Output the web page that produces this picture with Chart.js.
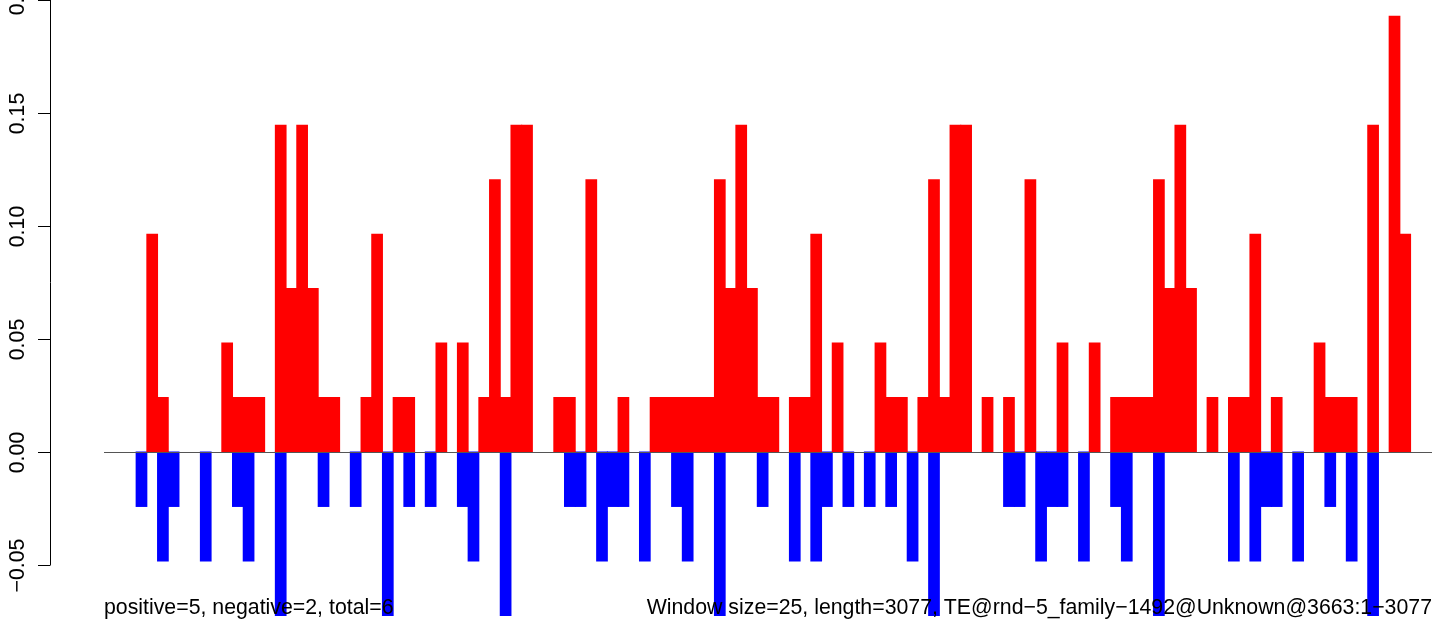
<!DOCTYPE html>
<html>
<head>
<meta charset="utf-8">
<title>Window bars</title>
<script src="https://cdn.jsdelivr.net/npm/chart.js@4.4.1/dist/chart.umd.min.js"></script>
<style>
  html, body { margin: 0; padding: 0; background: #ffffff; }
  canvas { display: block; }
</style>
</head>
<body>
<canvas id="windowChart" width="1444" height="626"></canvas>
<script>
// values, one slot per window (124 slots), null = no bar
const positiveValues = [
  null, null, null, null, 0.0964, 0.0241, null, null, null, null,
  null, 0.0482, 0.0241, 0.0241, 0.0241, null, 0.1446, 0.0723, 0.1446, 0.0723,
  0.0241, 0.0241, null, null, 0.0241, 0.0964, null, 0.0241, 0.0241, null,
  null, 0.0482, null, 0.0482, null, 0.0241, 0.1205, 0.0241, 0.1446, 0.1446,
  null, null, 0.0241, 0.0241, null, 0.1205, null, null, 0.0241, null,
  null, 0.0241, 0.0241, 0.0241, 0.0241, 0.0241, 0.0241, 0.1205, 0.0723, 0.1446,
  0.0723, 0.0241, 0.0241, null, 0.0241, 0.0241, 0.0964, null, 0.0482, null,
  null, null, 0.0482, 0.0241, 0.0241, null, 0.0241, 0.1205, 0.0241, 0.1446,
  0.1446, null, 0.0241, null, 0.0241, null, 0.1205, null, null, 0.0482,
  null, null, 0.0482, null, 0.0241, 0.0241, 0.0241, 0.0241, 0.1205, 0.0723,
  0.1446, 0.0723, null, 0.0241, null, 0.0241, 0.0241, 0.0964, null, 0.0241,
  null, null, null, 0.0482, 0.0241, 0.0241, 0.0241, null, 0.1446, null,
  0.1928, 0.0964, null, null
];

const negativeValues = [
  null, null, null, -0.0241, null, -0.0482, -0.0241, null, null, -0.0482,
  null, null, -0.0241, -0.0482, null, null, -0.0723, null, null, null,
  -0.0241, null, null, -0.0241, null, null, -0.0723, null, -0.0241, null,
  -0.0241, null, null, -0.0241, -0.0482, null, null, -0.0723, null, null,
  null, null, null, -0.0241, -0.0241, null, -0.0482, -0.0241, -0.0241, null,
  -0.0482, null, null, -0.0241, -0.0482, null, null, -0.0723, null, null,
  null, -0.0241, null, null, -0.0482, null, -0.0482, -0.0241, null, -0.0241,
  null, -0.0241, null, -0.0241, null, -0.0482, null, -0.0723, null, null,
  null, null, null, null, -0.0241, -0.0241, null, -0.0482, -0.0241, -0.0241,
  null, -0.0482, null, null, -0.0241, -0.0482, null, null, -0.0723, null,
  null, null, null, null, null, -0.0482, null, -0.0482, -0.0241, -0.0241,
  null, -0.0482, null, null, -0.0241, null, -0.0482, null, -0.0723, null,
  null, null, null, null
];

const windowLabels = positiveValues.map((_, i) => String(i + 1));

const yTicks = [-0.05, 0.00, 0.05, 0.10, 0.15, 0.2];
const yTickLabels = ["\u22120.05", "0.00", "0.05", "0.10", "0.15", "0.2"];

const leftNote = "positive=5, negative=2, total=6";
const rightNote = "Window size=25, length=3077, TE@rnd\u22125_family\u22121492@Unknown@3663:1\u22123077";

const FONT = "21.3px 'Liberation Sans', Arial, Helvetica, sans-serif";

// draws the R-style left axis, zero line and the two notes
const decorations = {
    id: "decorations",
    afterDatasetsDraw(chart) {
        const { ctx, chartArea, scales } = chart;
        const y = scales.y;
        const axisX = 50.5;

        ctx.save();

        // zero line
        const zeroY = Math.round(y.getPixelForValue(0)) + 0.5;
        ctx.strokeStyle = "#555555";
        ctx.lineWidth = 1;
        ctx.beginPath();
        ctx.moveTo(chartArea.left, zeroY);
        ctx.lineTo(chartArea.right, zeroY);
        ctx.stroke();

        // axis line
        const topY = y.getPixelForValue(yTicks[yTicks.length - 1]);
        const botY = y.getPixelForValue(yTicks[0]);
        ctx.strokeStyle = "#000000";
        ctx.beginPath();
        ctx.moveTo(axisX, topY);
        ctx.lineTo(axisX, botY);
        ctx.stroke();

        // ticks and rotated labels
        ctx.font = FONT;
        ctx.fillStyle = "#000000";
        ctx.textAlign = "center";
        ctx.textBaseline = "alphabetic";
        yTicks.forEach((v, i) => {
            const py = Math.round(y.getPixelForValue(v)) + 0.5;
            ctx.beginPath();
            ctx.moveTo(38, py);
            ctx.lineTo(axisX, py);
            ctx.stroke();

            ctx.save();
            ctx.translate(24, py);
            ctx.rotate(-Math.PI / 2);
            ctx.fillText(yTickLabels[i], 0, 0);
            ctx.restore();
        });

        // notes along the bottom
        ctx.fillStyle = "#000000";
        ctx.textAlign = "left";
        ctx.fillText(leftNote, chartArea.left, 614);
        ctx.textAlign = "right";
        ctx.fillText(rightNote, chartArea.right, 614);

        ctx.restore();
    }
};

new Chart(document.getElementById("windowChart"), {
    type: "bar",
    data: {
        labels: windowLabels,
        datasets: [
            {
                label: "positive",
                data: positiveValues,
                backgroundColor: "#ff0000",
                borderWidth: 0,
                inflateAmount: 0.5,
                barPercentage: 1,
                categoryPercentage: 1
            },
            {
                label: "negative",
                data: negativeValues,
                backgroundColor: "#0000ff",
                borderWidth: 0,
                inflateAmount: 0.5,
                barPercentage: 1,
                categoryPercentage: 1
            }
        ]
    },
    options: {
        responsive: false,
        animation: false,
        layout: {
            padding: { left: 104, right: 12, top: 0, bottom: 0 }
        },
        plugins: {
            legend: { display: false },
            tooltip: { enabled: false }
        },
        scales: {
            x: {
                stacked: true,
                display: false
            },
            y: {
                stacked: true,
                display: false,
                min: -0.077,
                max: 0.2
            }
        }
    },
    plugins: [decorations]
});
</script>
</body>
</html>
